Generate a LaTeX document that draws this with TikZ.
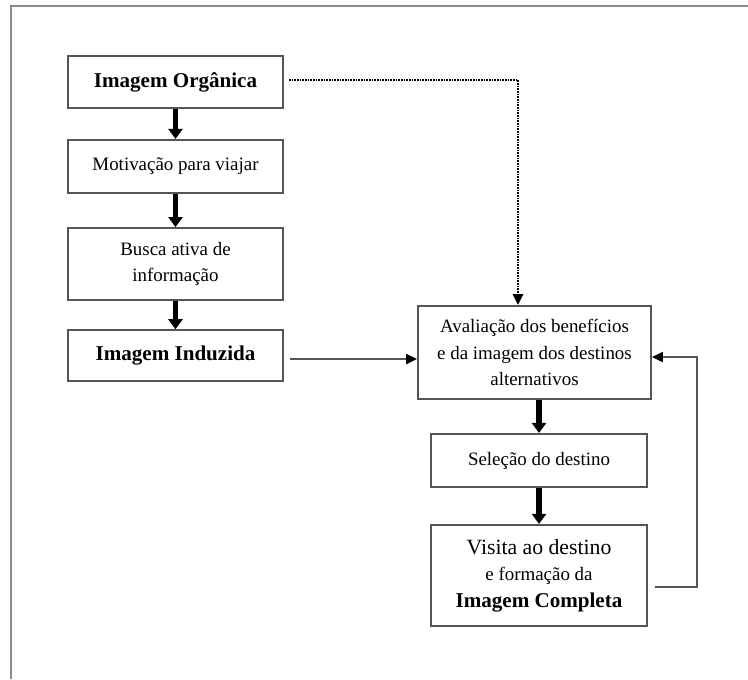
\documentclass[tikz,border=0pt]{standalone}
\usepackage{fontspec}
\setmainfont{Liberation Serif}
\usetikzlibrary{arrows.meta}
\definecolor{framegray}{HTML}{8A8A8A}
\definecolor{boxgray}{HTML}{555555}
\begin{document}
\begin{tikzpicture}[x=0.75pt,y=-0.75pt,
  stage/.style={draw=boxgray, line width=1.4pt, align=center, inner sep=0pt,
    font=\fontsize{14.2}{20}\selectfont, text=black},
  heavy/.style={line width=3.8pt, -{Triangle[width=10.5pt,length=7.5pt]}},
  thin/.style={draw=boxgray, line width=1.3pt, -{Triangle[width=7.5pt,length=8pt,color=black]}},
  dotline/.style={line width=1.6pt, dash pattern=on 1.1pt off 0.9pt, -{Triangle[width=7.5pt,length=8pt]}}]
\useasboundingbox (0,0) rectangle (748,679);
% outer frame, open on the right and at the bottom
\draw[framegray, line width=2pt] (11,679) -- (11,6) -- (748,6);

% left column
\node[stage, minimum width=161pt, minimum height=39pt, font=\fontsize{15.8}{19}\selectfont\bfseries]
  (org) at (175.5,82) {Imagem Orgânica};
\node[stage, minimum width=161pt, minimum height=40pt] (mot) at (175.5,166.5) {Motivação para viajar};
\node[stage, minimum width=161pt, minimum height=54pt] (busca) at (175.5,264) {Busca ativa de\\informação};
\node[stage, minimum width=161pt, minimum height=38pt, font=\fontsize{15.8}{19}\selectfont\bfseries]
  (ind) at (175.5,355.5) {Imagem Induzida};

% right column
\node[stage, minimum width=175pt, minimum height=70pt] (aval) at (534.5,352.5)
  {Avaliação dos benefícios\\e da imagem dos destinos\\alternativos};
\node[stage, minimum width=162pt, minimum height=40pt] (sel) at (539,460.5) {Seleção do destino};
\node[stage, minimum width=162pt, minimum height=76pt] (vis) at (539,575.5)
  {{\fontsize{16.3}{20}\selectfont Visita ao destino}\\e formação da\\{\fontsize{15.8}{20}\selectfont\bfseries Imagem Completa}};

% thick flow arrows
\draw[heavy] (org.south) -- (mot.north);
\draw[heavy] (mot.south) -- (busca.north);
\draw[heavy] (busca.south) -- (ind.north);
\draw[heavy] (aval.south -| sel.north) -- (sel.north);
\draw[heavy] (sel.south) -- (vis.north);

% induced image to evaluation
\coordinate (indy) at (0,359);
\draw[thin] ([xshift=4.5pt]ind.east |- indy) -- (aval.west |- indy);

% organic image to evaluation (dotted)
\coordinate (turn) at (518,80);
\draw[dotline] ([xshift=4pt]org.east |- turn) -- (turn) -- (aval.north -| turn);

% feedback from complete image
\coordinate (fb1) at (697,587);
\coordinate (fb2) at (697,357);
\draw[thin] ([xshift=5pt]vis.east |- fb1) -- (fb1) -- (fb2) -- (aval.east |- fb2);
\end{tikzpicture}
\end{document}
